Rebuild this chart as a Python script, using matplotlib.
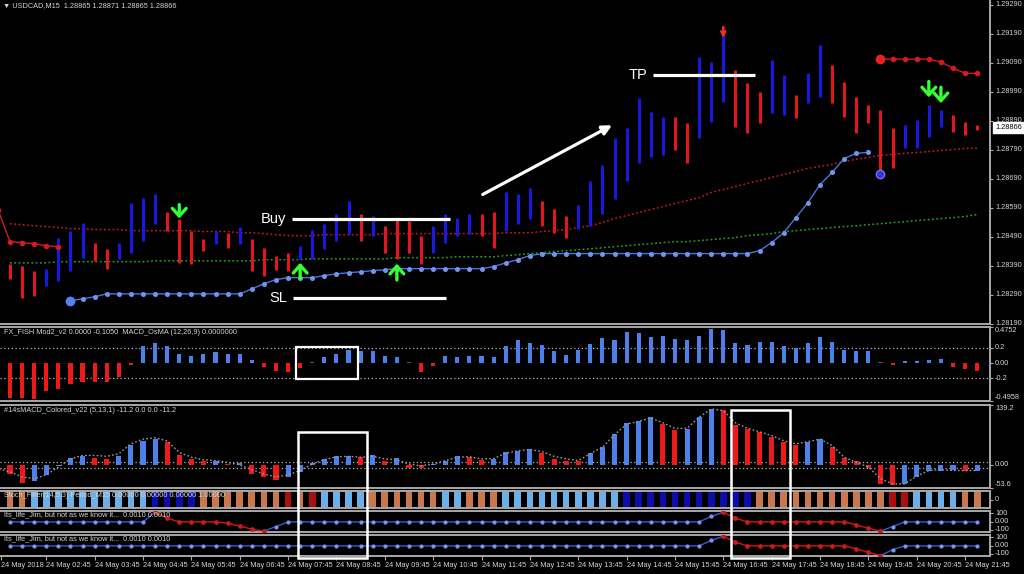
import numpy as np
import pandas as pd
import matplotlib
matplotlib.use('Agg')
import matplotlib.pyplot as plt
import matplotlib.transforms as mtransforms
from matplotlib.patches import Rectangle

plt.rcParams['font.family'] = ['Liberation Sans', 'DejaVu Sans']

# ---------------------------------------------------------------- data
symbol_title = "\u25BC USDCAD,M15  1.28865 1.28871 1.28865 1.28866"
fish_title = "FX_FISH Mod2_v2 0.0000 -0.1050  MACD_OsMA (12,26,9) 0.0000000"
macd_title = "#14sMACD_Colored_v22 (5,13,1) -11.2 0.0 0.0 -11.2"
stoch_title = "Stoch_Filter(14,5,3) Period_M15 0.00000 0.00000 0.00000 1.00000"
jim_title = "Its_life_Jim, but not as we know it...  0.0010 0.0010"

bar_times = pd.date_range('2018-05-24 02:00', periods=81, freq='15min')
first_time_label = '24 May 2018'
time_tick_labels = ['02:45', '03:45', '04:45', '05:45', '06:45', '07:45', '08:45',
                    '09:45', '10:45', '11:45', '12:45', '13:45', '14:45', '15:45',
                    '16:45', '17:45', '18:45', '19:45', '20:45', '21:45']

# main chart bars (price in points, 1e-5)
high_pts = [128397, 128390, 128373, 128380, 128487, 128511, 128539, 128470, 128449, 128470,
            128608, 128625, 128636, 128574, 128553, 128511, 128484, 128511, 128504, 128522,
            128484, 128452, 128425, 128435, 128459, 128515, 128535, 128570, 128615, 128570,
            128563, 128528, 128556, 128546, 128494, 128528, 128570, 128556, 128570, 128570,
            128574, 128643, 128639, 128660, 128615, 128587, 128563, 128598, 128684, 128736,
            128830, 128864, 128968, 128920, 128902, 128902, 128881, 129110, 129093, 129186,
            129065, 129020, 128989, 129099, 129048, 128978, 129054, 129151, 129082, 129023,
            128971, 128944, 128926, 128864, 128875, 128892, 128944, 128926, 128909, 128885,
            128875]
low_pts = [128345, 128279, 128286, 128321, 128338, 128373, 128418, 128407, 128380, 128414,
           128435, 128477, 128535, 128511, 128400, 128397, 128442, 128466, 128452, 128466,
           128373, 128356, 128376, 128373, 128414, 128414, 128449, 128477, 128501, 128477,
           128494, 128435, 128414, 128435, 128397, 128435, 128470, 128494, 128501, 128494,
           128452, 128511, 128535, 128553, 128528, 128504, 128487, 128518, 128528, 128570,
           128622, 128684, 128743, 128764, 128771, 128788, 128743, 128830, 128885, 128954,
           128868, 128847, 128881, 128916, 128909, 128899, 128951, 128971, 128951, 128902,
           128847, 128881, 128695, 128726, 128795, 128798, 128833, 128868, 128850, 128840,
           128857]
bar_dirs = ("rrr" "bbbb" "rr" "bbbb" "rrrr" "b" "r" "b" "rrrr" "bbbbb" "r" "b" "rrrr" "bbbb"
            "rr" "bbb" "rrr" "bbbbbbbb" "rr" "bbb" "rrr" "bb" "r" "bb" "rrrrrr" "bbbb" "rrr")

red_ma_pts = [128535, 128532, 128528, 128525, 128522, 128518, 128518, 128515, 128515, 128515,
              128511, 128511, 128511, 128511, 128511, 128511, 128508, 128508, 128508, 128504,
              128504, 128501, 128497, 128494, 128494, 128494, 128497, 128497, 128497, 128497,
              128497, 128501, 128501, 128501, 128501, 128501, 128501, 128501, 128501, 128501,
              128501, 128504, 128504, 128504, 128508, 128511, 128515, 128522, 128528, 128539,
              128553, 128563, 128574, 128584, 128594, 128605, 128615, 128625, 128643, 128653,
              128663, 128674, 128684, 128695, 128705, 128715, 128726, 128733, 128740, 128750,
              128757, 128764, 128771, 128774, 128778, 128781, 128784, 128788, 128791, 128795,
              128795]
green_ma_pts = [128400, 128400, 128400, 128400, 128404, 128404, 128404, 128404, 128404, 128404,
                128404, 128404, 128407, 128407, 128407, 128407, 128407, 128407, 128407, 128407,
                128407, 128411, 128411, 128411, 128411, 128414, 128414, 128414, 128414, 128414,
                128414, 128414, 128418, 128418, 128418, 128418, 128418, 128421, 128421, 128421,
                128421, 128425, 128428, 128432, 128435, 128439, 128442, 128445, 128449, 128452,
                128456, 128459, 128463, 128466, 128470, 128473, 128473, 128477, 128480, 128484,
                128487, 128494, 128497, 128501, 128508, 128511, 128515, 128518, 128522, 128525,
                128528, 128532, 128535, 128539, 128542, 128546, 128549, 128553, 128556, 128560,
                128567]

blue_stop_start = 5
blue_stop_pts = [128269, 128276, 128283, 128293, 128293, 128293, 128293, 128293, 128293, 128293,
                 128293, 128293, 128293, 128293, 128293, 128310, 128328, 128342, 128349, 128349,
                 128349, 128356, 128362, 128366, 128369, 128373, 128376, 128380, 128380, 128380,
                 128380, 128380, 128380, 128380, 128380, 128387, 128400, 128411, 128425, 128432,
                 128432, 128432, 128432, 128432, 128432, 128432, 128432, 128432, 128432, 128432,
                 128432, 128432, 128432, 128432, 128432, 128432, 128432, 128442, 128470, 128504,
                 128556, 128608, 128670, 128712, 128760, 128778, 128781]
red_stop_left_start = -1
red_stop_left_pts = [128584, 128473, 128470, 128466, 128459, 128456]
red_stop_right_start = 72
red_stop_right_pts = [129103, 129103, 129103, 129103, 129103, 129093, 129072, 129054, 129054]

arrow_down_green = [(14, 128601, 128553), (76, 129026, 128971), (77, 129006, 128951)]
arrow_up_green = [(24, 128345, 128400), (32, 128341, 128397)]
arrow_down_red = [(59, 129214, 129176)]
blue_dot_bar, blue_dot_pts = 72, 128705

current_price = 1.28866
main_yticks = [1.28190, 1.28290, 1.28390, 1.28490, 1.28590, 1.28690, 1.28790, 1.28890,
               1.28990, 1.29090, 1.29190, 1.29290]

# FX_FISH histogram, bars -1..80
fish_vals = [-0.36, -0.45, -0.45, -0.47, -0.36, -0.34, -0.27, -0.25, -0.25, -0.25, -0.18,
             -0.02, 0.23, 0.27, 0.22, 0.12, 0.10, 0.12, 0.15, 0.12, 0.12,
             0.04, -0.05, -0.10, -0.11, -0.06, 0.005, 0.08, 0.12, 0.17, 0.16,
             0.16, 0.10, 0.08, 0.005, -0.11, -0.03, 0.10, 0.08, 0.09, 0.09,
             0.085, 0.22, 0.30, 0.27, 0.24, 0.16, 0.11, 0.17, 0.25, 0.33,
             0.30, 0.41, 0.40, 0.34, 0.36, 0.32, 0.31, 0.36, 0.45, 0.44,
             0.26, 0.24, 0.28, 0.28, 0.23, 0.20, 0.26, 0.35, 0.28, 0.17,
             0.16, 0.16, 0.005, -0.02, 0.03, 0.03, 0.04, 0.05, -0.05, -0.08,
             -0.10]
fish_levels = [0.2, -0.2]

# MACD colored, bars -1..80
macd_vals = [-15, -21, -42, -37, -23, -3, 17, 21, 17, 14, 21,
             46, 56, 60, 54, 23, 14, 8, 9, 2, 4,
             -21, -27, -35, -28, -17, 5, 14, 20, 21, 18,
             22, 10, 15, -6, -7, 3, 10, 20, 18, 12,
             14, 29, 33, 36, 27, 14, 10, 9, 28, 41,
             72, 97, 103, 111, 95, 82, 83, 111, 131, 127,
             93, 83, 77, 66, 54, 46, 54, 60, 41, 15,
             8, -8, -44, -46, -44, -29, -15, -13, -12, -15,
             -13]
macd_dirs = ("b" "rr" "bbbbb" "rr" "bbbb" "rrrr" "b" "r" "b" "rrr" "bbbbbb" "r" "b" "r" "b"
             "rr" "bbb" "rr" "bbbb" "rrrr" "bbbbbb" "rr" "bbb" "rrrrrrr" "bb" "rrrrrr"
             "bbbbb" "r" "b")
macd_signal = [-9, -16, -28, -32, -23, -5, 14, 22, 22, 20, 26,
               49, 60, 63, 56, 29, 18, 12, 10, 6, 0,
               -11, -21, -28, -23, -13, 2, 12, 19, 20, 18,
               20, 14, 12, 2, -2, 2, 10, 18, 19, 14,
               15, 27, 33, 36, 31, 20, 14, 10, 26, 41,
               70, 95, 101, 109, 98, 85, 85, 111, 130, 126,
               98, 85, 77, 68, 56, 49, 54, 60, 45, 18,
               6, -5, -32, -44, -44, -26, -13, -11, -13, -13,
               -13]
macd_levels = [7, -7]

# Stoch filter stripes, bars 0..80 (o=brown, l=light blue, d=dark red, n=navy)
stoch_states = ("oo" "llllllllll" "nnnn" "ooooooo" "d" "o" "d" "llll" "oooooo" "ll" "ooo"
                "llllllllll" "nnnnnnnnnnn" "ooooooooooo" "dd" "llll" "oo")

# Its_life_Jim lines, bars 0..80 (nan = not drawn)
nan = np.nan
jim1_blue = ([-5] * 12 + [110] + [nan] * 8 + [-115, -60] + [-5] * 35 + [60, 110]
             + [nan] * 12 + [-115, -60] + [-5] * 7)
jim1_red = ([nan] * 12 + [110, 40, -5, -5, -5, -5, -20, -55, -90, -115] + [nan] * 37
            + [110, 40, -5, -5, -5, -5, -5, -5, -5, -5, -5, -40, -80, -115] + [nan] * 8)
jim2_blue = ([-5] * 58 + [60, 110] + [nan] * 12 + [-120, -50] + [-5] * 7)
jim2_red = ([nan] * 59 + [110, 40, -5, -5, -5, -5, -5, -5, -5, -5, -5, -40, -80, -120]
            + [nan] * 8)

# annotations (data coordinates of the hand-drawn marks)
buy_line = (23.3, 36.4, 1.28553)
sl_line = (23.4, 36.1, 1.28279)
tp_line = (53.2, 61.6, 1.29048)
trend_arrow = ((39.1, 1.28636), (49.8, 1.28875))
fish_box = (23.65, 28.8, -0.205, 0.215)
macd_boxes = [(23.85, 29.5, 76), (59.6, 64.55, 128)]

# ---------------------------------------------------------------- layout
W, H = 1024, 574
RIGHT = 990
PX0, PXSTEP = 10.0, 12.09
XLIM = (-PX0 / PXSTEP, (RIGHT - PX0) / PXSTEP)
GRAY = '#a8a8a8'
TXT = '#d4d4d4'
BLUE_BAR = '#1818e0'
RED_BAR = '#e3161c'
HBLUE = '#4d80ea'
HRED = '#ee1a1a'
FS = 5.3

fig = plt.figure(figsize=(W / 100, H / 100), dpi=100, facecolor='black')


def panel(top, bottom, top_spine=True):
    ax = fig.add_axes([0, 1 - bottom / H, RIGHT / W, (bottom - top) / H])
    ax.set_facecolor('black')
    ax.set_xlim(XLIM)
    ax.spines['left'].set_visible(False)
    for s in ('top', 'bottom', 'right'):
        ax.spines[s].set_color(GRAY)
        ax.spines[s].set_linewidth(1.4)
    ax.spines['top'].set_visible(top_spine)
    ax.tick_params(axis='x', bottom=False, labelbottom=False)
    ax.yaxis.tick_right()
    ax.tick_params(axis='y', right=True, left=False, labelright=False, labelleft=False,
                   length=2.5, color=GRAY, width=0.8)
    return ax


def rlabel(ax, y, s, va='center', color=TXT, **kw):
    ax.text(1.005, y, s, transform=ax.get_yaxis_transform(), ha='left', va=va,
            fontsize=FS, color=color, clip_on=False, **kw)


def title(ax, s):
    ax.text(0.004, 0.97, s, transform=ax.transAxes, ha='left', va='top', fontsize=FS,
            color=TXT, zorder=10)


x = np.arange(81)
xm1 = np.arange(-1, 81)

# ---------------- main chart
ax = panel(0, 324, top_spine=False)
ax.set_ylim(1.28189, 1.29307)
hi = np.array(high_pts) / 1e5
lo = np.array(low_pts) / 1e5
cols = [BLUE_BAR if c == 'b' else RED_BAR for c in bar_dirs]
ax.vlines(x, lo, hi, colors=cols, lw=2.2, zorder=3)
ax.plot(x, np.array(red_ma_pts) / 1e5, color='#c81a1a', lw=1.1, ls=(0, (1.2, 1.6)), zorder=2)
ax.plot(x, np.array(green_ma_pts) / 1e5, color='#22a322', lw=1.1, ls=(0, (1.2, 1.6)), zorder=2)

bx = np.arange(blue_stop_start, blue_stop_start + len(blue_stop_pts))
by = np.array(blue_stop_pts) / 1e5
ax.plot(bx, by, color='#4a74d8', lw=1.0, marker='o', ms=2.6, mfc='#7094f0', mec='#7094f0', zorder=4)
ax.plot(bx[0], by[0], 'o', ms=6, color='#5a80ee', zorder=5)

rx = np.arange(red_stop_left_start, red_stop_left_start + len(red_stop_left_pts))
ax.plot(rx, np.array(red_stop_left_pts) / 1e5, color='#d01c1c', lw=1.0, marker='o', ms=3,
        zorder=4)
rx2 = np.arange(red_stop_right_start, red_stop_right_start + len(red_stop_right_pts))
ry2 = np.array(red_stop_right_pts) / 1e5
ax.plot(rx2, ry2, color='#d01c1c', lw=1.0, marker='o', ms=3, zorder=4)
ax.plot(rx2[0], ry2[0], 'o', ms=6, color='#e82020', zorder=5)
ax.plot(blue_dot_bar, blue_dot_pts / 1e5, 'o', ms=6, color='#3434d8', mec='#7070ff', zorder=5)

for b, tail, tip in arrow_down_green + arrow_up_green:
    ax.annotate('', xy=(b, tip / 1e5), xytext=(b, tail / 1e5),
                arrowprops=dict(arrowstyle='->,head_length=0.5,head_width=0.45',
                                color='#33ff33', lw=2.4, mutation_scale=11,
                                shrinkA=0, shrinkB=0), zorder=6)
for b, tail, tip in arrow_down_red:
    ax.annotate('', xy=(b, tip / 1e5), xytext=(b, tail / 1e5),
                arrowprops=dict(arrowstyle='->', color='#f03030', lw=1.8, mutation_scale=7,
                                shrinkA=0, shrinkB=0), zorder=6)

for (x0, x1, yv), lab in [(buy_line, 'Buy'), (sl_line, 'SL'), (tp_line, 'TP')]:
    ax.plot([x0, x1], [yv, yv], color='white', lw=2.3, solid_capstyle='butt', zorder=7)
    ax.text(x0 - 0.45, yv, lab, color='white', fontsize=10.5, ha='right', va='center', zorder=7)
ax.annotate('', xy=trend_arrow[1], xytext=trend_arrow[0],
            arrowprops=dict(arrowstyle='-|>', color='white', lw=2.3, mutation_scale=14,
                            shrinkA=0, shrinkB=0), zorder=7)

ax.set_yticks(main_yticks)
for v in main_yticks:
    rlabel(ax, v, f'{v:.5f}')
rlabel(ax, current_price, f'{current_price:.5f}', color='black',
       bbox=dict(boxstyle='square,pad=0.25', fc='white', ec='white'), zorder=10)
ax.text(0.003, 0.995, symbol_title, transform=ax.transAxes, ha='left', va='top',
        fontsize=FS, color=TXT)

# ---------------- FX_FISH
ax2 = panel(327, 401)
ax2.set_ylim(-0.4958, 0.4752)
fv = np.array(fish_vals)
fcols = [HBLUE if v > 0.01 else (HRED if v < -0.01 else '#555555') for v in fv]
fh = np.where(np.abs(fv) < 0.01, 0.012, fv)
ax2.bar(xm1, fh, width=0.34, bottom=0, color=fcols, zorder=3)
for lv in fish_levels:
    ax2.axhline(lv, color='#b8b8b8', lw=0.9, ls=(0, (1, 2)), zorder=2)
ax2.set_yticks([0.4752, 0.2, 0.0, -0.2, -0.4958])
rlabel(ax2, 0.4752, '0.4752', va='top')
rlabel(ax2, 0.2, '0.2')
rlabel(ax2, 0.0, '0.00')
rlabel(ax2, -0.2, '-0.2')
rlabel(ax2, -0.4958, '-0.4958', va='bottom')
title(ax2, fish_title)
ax2.add_patch(Rectangle((fish_box[0], fish_box[2]), fish_box[1] - fish_box[0],
                        fish_box[3] - fish_box[2], fill=False, ec='white', lw=1.6, zorder=8))

# ---------------- MACD colored
ax3 = panel(405, 488)
ax3.set_ylim(-53.6, 139.2)
mcols = [HBLUE if c == 'b' else HRED for c in macd_dirs]
ax3.bar(xm1, macd_vals, width=0.42, color=mcols, zorder=3)
ax3.plot(xm1, macd_signal, color='#9a9a9a', lw=1.0, ls=(0, (1.2, 1.6)), zorder=4)
for lv in macd_levels:
    ax3.axhline(lv, color='#b8b8b8', lw=0.9, ls=(0, (1, 2)), zorder=2)
ax3.set_yticks([139.2, 0.0, -53.6])
rlabel(ax3, 139.2, '139.2', va='top')
rlabel(ax3, 0.0, '0.00')
rlabel(ax3, -53.6, '-53.6', va='bottom')
title(ax3, macd_title)

# ---------------- Stoch filter
ax4 = panel(491, 508)
ax4.set_ylim(0, 1)
scol = {'o': '#c8784c', 'l': '#6cb0ea', 'd': '#a81010', 'n': '#0c0ca8'}
ax4.bar(x, 1, width=0.55, color=[scol[s] for s in stoch_states], zorder=2)
ax4.set_yticks([0.5])
rlabel(ax4, 0.5, '0')
title(ax4, stoch_title)

# ---------------- Its_life_Jim panels
for top, bot, blue, red in [(511, 532, jim1_blue, jim1_red), (535, 556, jim2_blue, jim2_red)]:
    a = panel(top, bot)
    a.set_ylim(-125, 125)
    a.plot(x, blue, color='#3a58d0', lw=1.0, marker='o', ms=2, mfc='#7896f2', mec='#7896f2',
           zorder=3)
    a.plot(x, red, color='#d01818', lw=1.0, marker='o', ms=2.4, zorder=3)
    a.set_yticks([100, 0, -100])
    rlabel(a, 100, '100', va='center')
    rlabel(a, 0, '0.00')
    rlabel(a, -100, '-100')
    title(a, jim_title)
    ax6 = a

# time axis
tstr = list(bar_times.strftime('%H:%M'))
tpos = [XLIM[0] + 0.1] + [tstr.index(t) for t in time_tick_labels]
tlab = [first_time_label] + ['24 May ' + t for t in time_tick_labels]
ax6.set_xticks(tpos)
ax6.set_xticklabels(tlab)
ax6.tick_params(axis='x', bottom=True, labelbottom=True, length=3, color=GRAY,
                labelsize=FS, labelcolor=TXT, pad=1.5)
for lbl in ax6.get_xticklabels():
    lbl.set_horizontalalignment('left')

# tall annotation boxes spanning lower panels
blend = mtransforms.blended_transform_factory(ax3.transData, fig.transFigure)
inv = fig.transFigure.inverted()
bottom_fig = 1 - 558 / H
for x0, x1, topv in macd_boxes:
    topfig = inv.transform(ax3.transData.transform((0, topv)))[1]
    r = Rectangle((x0, bottom_fig), x1 - x0, topfig - bottom_fig, transform=blend,
                  fill=False, ec='white', lw=1.8, zorder=20)
    fig.add_artist(r)

fig.savefig('out.png', dpi=100, facecolor='black')
